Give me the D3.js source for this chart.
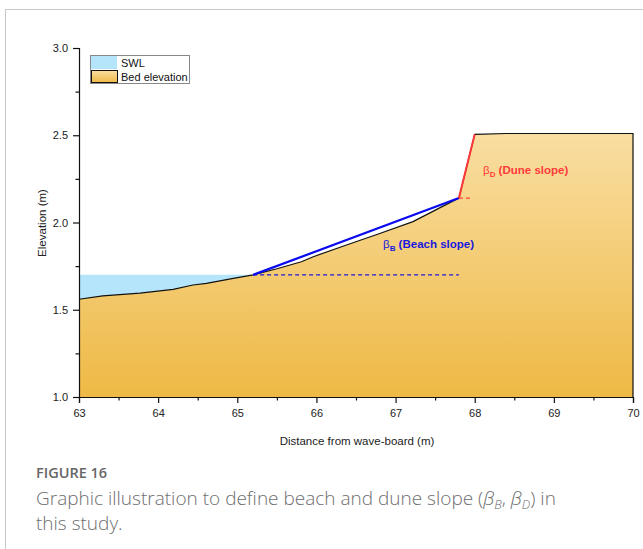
<!DOCTYPE html>
<html>
<head>
<meta charset="utf-8">
<title>Figure 16 - beach and dune slope</title>
<script src="https://d3js.org/d3.v7.min.js"></script>
<style>
  body { margin: 0; background: #fff; }
  svg { display: block; }
</style>
</head>
<body>
<div id="chart"></div>
<script>

// bed profile (distance m, elevation m)
var bedX = [63.0, 63.3, 63.77, 64.19, 64.44, 64.61, 64.95, 65.2, 65.5, 65.81, 65.96, 66.38, 66.8, 67.22, 67.6, 67.8, 68.0, 68.4, 70.0];
var bedY = [1.56, 1.58, 1.595, 1.617, 1.642, 1.651, 1.68, 1.70, 1.735, 1.775, 1.804, 1.871, 1.937, 2.005, 2.094, 2.14, 2.505, 2.51, 2.51];

var swlLevel = 1.70;
var swlEndX = 65.2;

// slope helper lines
var beachX = [65.2, 67.8];
var beachY = [1.70, 2.14];
var beachRefX = [65.2, 67.8];
var duneX = [67.8, 68.0];
var duneY = [2.14, 2.505];
var duneRefX = [67.8, 67.95];

var xTicks = [63, 64, 65, 66, 67, 68, 69, 70];
var yTicks = [1.0, 1.5, 2.0, 2.5, 3.0];
var legendLabels = ["SWL", "Bed elevation"];

var W = 643, H = 549;
var x0 = 79, x1 = 633, y0 = 397, y1 = 48;
var font = "'Liberation Sans', Arial, sans-serif";

var svg = d3.select("#chart").append("svg")
  .attr("width", W)
  .attr("height", H);

// outer frame of the figure page
svg.append("rect")
  .attr("x", 5.5).attr("y", 9.5)
  .attr("width", 700).attr("height", 600)
  .attr("fill", "none")
  .attr("stroke", "#c8c8c8");

var xScale = d3.scaleLinear().domain([63, 70]).range([x0, x1]);
var yScale = d3.scaleLinear().domain([1.0, 3.0]).range([y0, y1]);

var defs = svg.append("defs");
var grad = defs.append("linearGradient")
  .attr("id", "sand")
  .attr("x1", 0).attr("y1", 0).attr("x2", 0).attr("y2", 1);
grad.append("stop").attr("offset", "0%").attr("stop-color", "#f9dea2");
grad.append("stop").attr("offset", "100%").attr("stop-color", "#eeb945");

var bed = bedX.map(function(d, i) { return [d, bedY[i]]; });

// SWL water area (between bed and still water level)
var water = bed.filter(function(d) { return d[0] <= swlEndX; });
var waterArea = d3.area()
  .x(function(d) { return xScale(d[0]); })
  .y0(function(d) { return yScale(d[1]); })
  .y1(yScale(swlLevel));
svg.append("path")
  .attr("d", waterArea(water))
  .attr("fill", "#b5e5fb");

// bed area
var bedArea = d3.area()
  .x(function(d) { return xScale(d[0]); })
  .y0(yScale(1.0))
  .y1(function(d) { return yScale(d[1]); });
svg.append("path")
  .attr("d", bedArea(bed))
  .attr("fill", "url(#sand)");

var line = d3.line()
  .x(function(d) { return xScale(d[0]); })
  .y(function(d) { return yScale(d[1]); });

svg.append("path")
  .attr("d", line(bed.concat([[70, 1.0]])))
  .attr("fill", "none")
  .attr("stroke", "#111")
  .attr("stroke-width", 1.2);

// beach slope
svg.append("line")
  .attr("x1", xScale(beachRefX[0])).attr("x2", xScale(beachRefX[1]))
  .attr("y1", yScale(beachY[0])).attr("y2", yScale(beachY[0]))
  .attr("stroke", "#1a1adc")
  .attr("stroke-width", 1.2)
  .attr("stroke-dasharray", "4,3");
svg.append("path")
  .attr("d", line([[beachX[0], beachY[0]], [beachX[1], beachY[1]]]))
  .attr("stroke", "#0a0af0")
  .attr("stroke-width", 2.2)
  .attr("fill", "none");

// dune slope
svg.append("line")
  .attr("x1", xScale(duneRefX[0])).attr("x2", xScale(duneRefX[1]))
  .attr("y1", yScale(duneY[0])).attr("y2", yScale(duneY[0]))
  .attr("stroke", "#ff4040")
  .attr("stroke-width", 1.2)
  .attr("stroke-dasharray", "4,3");
svg.append("path")
  .attr("d", line([[duneX[0], duneY[0]], [duneX[1], duneY[1]]]))
  .attr("stroke", "#ff3838")
  .attr("stroke-width", 2)
  .attr("fill", "none");

// slope labels
var lab1 = svg.append("text")
  .attr("x", 483).attr("y", 174)
  .attr("fill", "#ff3b3b")
  .style("font-family", font)
  .style("font-size", "11.5px")
  .style("font-weight", "bold");
lab1.append("tspan").text("β").style("font-weight", "normal");
lab1.append("tspan").text("D").attr("dy", 3).style("font-size", "8px");
lab1.append("tspan").text(" (Dune slope)").attr("dy", -3);

var lab2 = svg.append("text")
  .attr("x", 383).attr("y", 248)
  .attr("fill", "#1818e0")
  .style("font-family", font)
  .style("font-size", "11.5px")
  .style("font-weight", "bold");
lab2.append("tspan").text("β").style("font-weight", "normal");
lab2.append("tspan").text("B").attr("dy", 3).style("font-size", "8px");
lab2.append("tspan").text(" (Beach slope)").attr("dy", -3);

// axes
svg.append("g")
  .attr("transform", "translate(0," + y0 + ")")
  .call(d3.axisBottom(xScale).tickValues(xTicks).tickSize(6).tickPadding(6).tickFormat(d3.format("d")));
svg.append("g")
  .attr("transform", "translate(0," + y0 + ")")
  .call(d3.axisBottom(xScale).tickValues(d3.range(63.5, 70, 1)).tickSize(3.5).tickFormat(""))
  .select(".domain").remove();

svg.append("g")
  .attr("transform", "translate(" + x0 + ",0)")
  .call(d3.axisLeft(yScale).tickValues(yTicks).tickSize(6).tickPadding(5).tickFormat(d3.format(".1f")));
svg.append("g")
  .attr("transform", "translate(" + x0 + ",0)")
  .call(d3.axisLeft(yScale).tickValues([1.25, 1.75, 2.25, 2.75]).tickSize(3.5).tickFormat(""))
  .select(".domain").remove();

svg.selectAll(".domain").attr("stroke", "#111").attr("stroke-width", 1.2);
svg.selectAll(".tick line").attr("stroke", "#111").attr("stroke-width", 1.2);
svg.selectAll(".tick text")
  .style("font-family", font)
  .style("font-size", "11px")
  .attr("fill", "#222");

svg.append("text")
  .attr("x", 357).attr("y", 445)
  .attr("text-anchor", "middle")
  .style("font-family", font)
  .style("font-size", "11.5px")
  .attr("fill", "#222")
  .text("Distance from wave-board (m)");

svg.append("text")
  .attr("transform", "translate(46,223) rotate(-90)")
  .attr("text-anchor", "middle")
  .style("font-family", font)
  .style("font-size", "11.5px")
  .attr("fill", "#222")
  .text("Elevation (m)");

// legend
var leg = svg.append("g").attr("transform", "translate(90,55)");
leg.append("rect")
  .attr("x", 0.5).attr("y", 0.5).attr("width", 99).attr("height", 28)
  .attr("fill", "#fff").attr("stroke", "#888");
leg.append("rect")
  .attr("x", 1).attr("y", 1).attr("width", 26).attr("height", 13)
  .attr("fill", "#b5e5fb");
leg.append("rect")
  .attr("x", 1.5).attr("y", 15.5).attr("width", 26).attr("height", 12)
  .attr("fill", "url(#sand)").attr("stroke", "#111");
leg.selectAll("text.lg")
  .data(legendLabels)
  .enter().append("text")
  .attr("class", "lg")
  .attr("x", 31)
  .attr("y", function(d, i) { return 11.5 + i * 14; })
  .style("font-family", font)
  .style("font-size", "11px")
  .attr("fill", "#111")
  .text(function(d) { return d; });

// caption
svg.append("text")
  .attr("x", 36).attr("y", 478)
  .style("font-family", "'Open Sans', sans-serif")
  .style("font-size", "14.5px")
  .style("font-weight", "600")
  .attr("fill", "#666")
  .text("FIGURE 16");

var cap = svg.append("text")
  .attr("x", 36).attr("y", 505)
  .style("font-family", "'Open Sans', sans-serif")
  .style("font-size", "19px")
  .style("font-weight", "300")
  .attr("fill", "#6e6e6e");
cap.append("tspan").text("Graphic illustration to define beach and dune slope (");
cap.append("tspan").text("β").style("font-style", "italic");
cap.append("tspan").text("B").attr("dy", 4).style("font-size", "12.5px").style("font-style", "italic");
cap.append("tspan").text(", ").attr("dy", -4);
cap.append("tspan").text("β").style("font-style", "italic");
cap.append("tspan").text("D").attr("dy", 4).style("font-size", "12.5px").style("font-style", "italic");
cap.append("tspan").text(") in").attr("dy", -4);

svg.append("text")
  .attr("x", 36).attr("y", 530)
  .style("font-family", "'Open Sans', sans-serif")
  .style("font-size", "19px")
  .style("font-weight", "300")
  .attr("fill", "#6e6e6e")
  .text("this study.");

</script>
</body>
</html>
